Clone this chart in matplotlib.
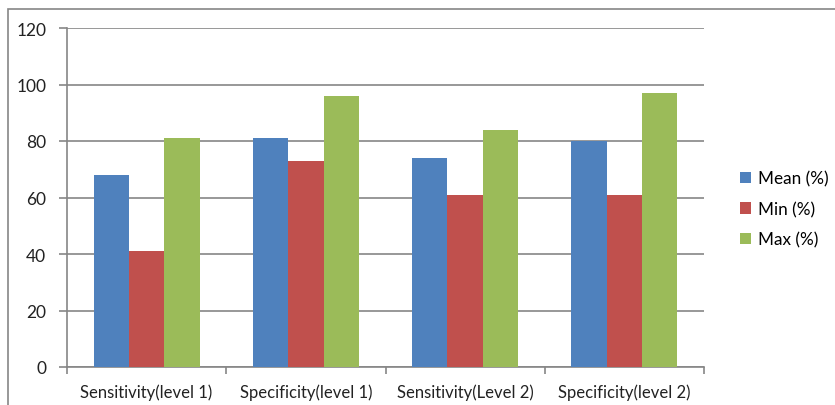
import numpy as np
import matplotlib.pyplot as plt
from matplotlib.patches import Rectangle

categories = ['Sensitivity(level 1)', 'Specificity(level 1)',
              'Sensitivity(Level 2)', 'Specificity(level 2)']
mean_pct = [68, 81, 74, 80]
min_pct = [41, 73, 61, 61]
max_pct = [81, 96, 84, 97]
series_names = ['Mean (%)', 'Min (%)', 'Max (%)']
colors = ['#4f81bd', '#c0504d', '#9bbb59']

plt.rcParams['font.family'] = ['Lato', 'DejaVu Sans']
grey = '#868686'

fig = plt.figure(figsize=(8.35, 4.06), dpi=100)
ax = fig.add_axes([67 / 835, 1 - 368 / 406, (704 - 67) / 835, (368 - 29) / 406])

x = np.arange(len(categories))
width = 1 / 4.5
for i, (vals, name, c) in enumerate(zip([mean_pct, min_pct, max_pct], series_names, colors)):
    ax.bar(x + (i - 1) * width, vals, width, color=c, label=name, zorder=3)

ax.set_xlim(-0.5, len(categories) - 0.5)
ax.set_ylim(0, 120)
ax.set_yticks(range(0, 121, 20))
ax.yaxis.grid(True, color=grey, linewidth=1.2, zorder=0)

ax.set_xticks(x)
ax.set_xticklabels(categories)
ax.set_xticks(np.arange(-0.5, len(categories), 1), minor=True)
ax.tick_params(axis='x', which='major', length=0, pad=12, labelsize=12, colors='#222222')
ax.tick_params(axis='x', which='minor', length=5, color=grey, width=1.2)
ax.tick_params(axis='y', length=6, color=grey, width=1.2, pad=9, labelsize=12.5,
               colors='#222222')
ax.tick_params(axis='y', color=grey)

for side in ['top', 'right']:
    ax.spines[side].set_visible(False)
for side in ['left', 'bottom']:
    ax.spines[side].set_color(grey)
    ax.spines[side].set_linewidth(1.2)

ax.legend(loc='center left', bbox_to_anchor=(725 / 835, 1 - 210 / 406),
          bbox_transform=fig.transFigure, frameon=False, fontsize=12.3,
          handlelength=0.65, handleheight=0.65, handletextpad=0.4, labelspacing=0.85)

# outer chart frame, clipped at the right and bottom
fig.patches.append(Rectangle((8 / 835, -0.1), 1.2, 1 - 10 / 406 + 0.1,
                             transform=fig.transFigure, fill=False,
                             edgecolor=grey, linewidth=1.2))

fig.savefig('out.png', dpi=100)
